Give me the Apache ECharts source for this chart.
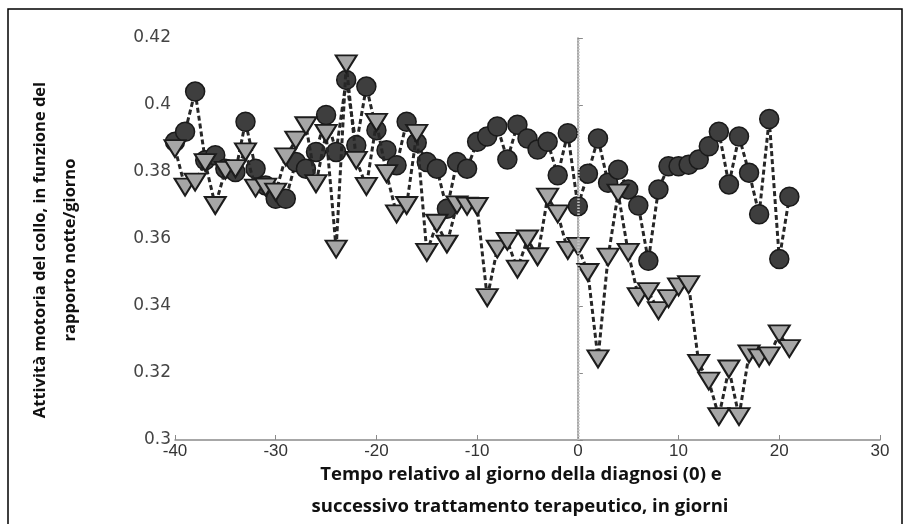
<!DOCTYPE html>
<html lang="it">
<head>
    <meta charset="UTF-8">
    <title>Attività motoria del collo</title>
    <script src="https://cdn.jsdelivr.net/npm/echarts@6.0.0/dist/echarts.min.js"></script>
    <style>
        html, body { margin: 0; padding: 0; background: #fff; }
        #chart { width: 909px; height: 524px; }
    </style>
</head>
<body>
    <div id="chart"></div>
    <script>
        // days relative to diagnosis
        const days = [-40, -39, -38, -37, -36, -35, -34, -33, -32, -31, -30, -29, -28, -27, -26, -25,
            -24, -23, -22, -21, -20, -19, -18, -17, -16, -15, -14, -13, -12, -11, -10, -9, -8, -7,
            -6, -5, -4, -3, -2, -1, 0, 1, 2, 3, 4, 5, 6, 7, 8, 9, 10, 11, 12, 13, 14, 15, 16, 17,
            18, 19, 20, 21];

        // dark circles
        const circleValues = [0.389, 0.392, 0.404, 0.3835, 0.385, 0.381, 0.380, 0.395, 0.381, 0.376,
            0.372, 0.372, 0.383, 0.381, 0.386, 0.397, 0.386, 0.4075, 0.388, 0.4055, 0.3925, 0.3865,
            0.382, 0.395, 0.3887, 0.383, 0.381, 0.369, 0.383, 0.381, 0.389, 0.3906, 0.3936, 0.3837,
            0.3941, 0.390, 0.3867, 0.389, 0.379, 0.3916, 0.3698, 0.3795, 0.390, 0.3768, 0.3807,
            0.3748, 0.370, 0.3535, 0.3748, 0.3817, 0.3817, 0.3822, 0.3837, 0.3877, 0.392, 0.3763,
            0.3906, 0.3798, 0.3674, 0.3958, 0.354, 0.3726];

        // light triangles
        const triangleValues = [0.387, 0.3755, 0.377, 0.3828, 0.370, 0.3805, 0.381, 0.386, 0.3752,
            0.3755, 0.374, 0.3845, 0.3895, 0.3938, 0.3765, 0.3915, 0.357, 0.4123, 0.3835, 0.3757,
            0.3948, 0.3795, 0.3675, 0.370, 0.3915, 0.356, 0.3647, 0.3585, 0.3702, 0.3698, 0.3697,
            0.3425, 0.357, 0.3593, 0.351, 0.360, 0.3547, 0.3725, 0.3675, 0.3566, 0.3578, 0.350,
            0.3242, 0.3546, 0.3737, 0.356, 0.3428, 0.3443, 0.3386, 0.3422, 0.3457, 0.3464, 0.3229,
            0.3176, 0.307, 0.3212, 0.307, 0.3257, 0.3245, 0.3251, 0.3317, 0.3273];

        const xTicks = [-40, -30, -20, -10, 0, 10, 20, 30];
        const yTickLabels = ['0.3', '0.32', '0.34', '0.36', '0.38', '0.4', '0.42'];

        const yTitle = ['Attività motoria del collo, in funzione del', 'rapporto notte/giorno'];
        const xTitle = ['Tempo relativo al giorno della diagnosi (0) e', 'successivo trattamento terapeutico, in giorni'];

        const chart = echarts.init(document.getElementById('chart'));

        const xTitleFont = 'bold 18.5px "Open Sans", sans-serif';
        const yTitleFont = 'bold 16.5px "Open Sans", sans-serif';

        chart.setOption({
            animation: false,
            grid: { left: 175, right: 29, top: 38, bottom: 84 },
            xAxis: {
                type: 'value',
                min: xTicks[0],
                max: xTicks[xTicks.length - 1],
                interval: 10,
                axisLine: { lineStyle: { color: '#8a8a8a', width: 1.5 } },
                axisTick: { inside: true, length: 5, lineStyle: { color: '#8a8a8a' } },
                axisLabel: { color: '#333', fontSize: 17, fontFamily: 'Liberation Sans', margin: 3 },
                splitLine: { show: false }
            },
            yAxis: {
                type: 'value',
                min: 0.3,
                max: 0.42,
                interval: 0.02,
                axisLine: { show: true, lineStyle: { color: '#8a8a8a', width: 1.5 } },
                axisTick: { show: true, inside: true, length: 5, lineStyle: { color: '#8a8a8a' } },
                axisLabel: {
                    color: '#444', fontSize: 17, fontFamily: 'DejaVu Sans', margin: 4,
                    formatter: function (v) {
                        return yTickLabels[Math.round((v - 0.3) / 0.02)];
                    }
                },
                splitLine: { show: false }
            },
            series: [
                {
                    name: 'cerchi',
                    type: 'line',
                    data: days.map((d, i) => [d, circleValues[i]]),
                    symbol: 'circle',
                    symbolSize: 19,
                    z: 2,
                    itemStyle: { color: '#3e3e3e', borderColor: '#1a1a1a', borderWidth: 1.5 },
                    lineStyle: { color: '#262626', width: 3, type: [5, 3] },
                    markLine: {
                        silent: true,
                        symbol: ['none', 'none'],
                        label: { show: false },
                        lineStyle: { color: '#c4c4c4', width: 2.5, type: [1.5, 1.5] },
                        data: [{ xAxis: 0 }]
                    }
                },
                {
                    name: 'triangoli',
                    type: 'line',
                    data: days.map((d, i) => [d, triangleValues[i]]),
                    symbol: 'triangle',
                    symbolRotate: 180,
                    symbolSize: [21, 17],
                    z: 3,
                    itemStyle: { color: '#a6a6a6', borderColor: '#1c1c1c', borderWidth: 2 },
                    lineStyle: { color: '#262626', width: 3, type: [5, 3] }
                }
            ],
            graphic: [
                {
                    type: 'rect',
                    shape: { x: 8, y: 9, width: 894, height: 530 },
                    style: { fill: 'none', stroke: '#000', lineWidth: 1.5 },
                    silent: true
                },
                {
                    type: 'text', x: 40, y: 250, rotation: Math.PI / 2,
                    style: { text: yTitle[0], font: yTitleFont, fill: '#111', align: 'center', verticalAlign: 'middle' }
                },
                {
                    type: 'text', x: 70, y: 250, rotation: Math.PI / 2,
                    style: { text: yTitle[1], font: yTitleFont, fill: '#111', align: 'center', verticalAlign: 'middle' }
                },
                {
                    type: 'text', x: 521, y: 475,
                    style: { text: xTitle[0], font: xTitleFont, fill: '#111', align: 'center', verticalAlign: 'middle' }
                },
                {
                    type: 'text', x: 520, y: 507,
                    style: { text: xTitle[1], font: xTitleFont, fill: '#111', align: 'center', verticalAlign: 'middle' }
                }
            ]
        });
    </script>
</body>
</html>
